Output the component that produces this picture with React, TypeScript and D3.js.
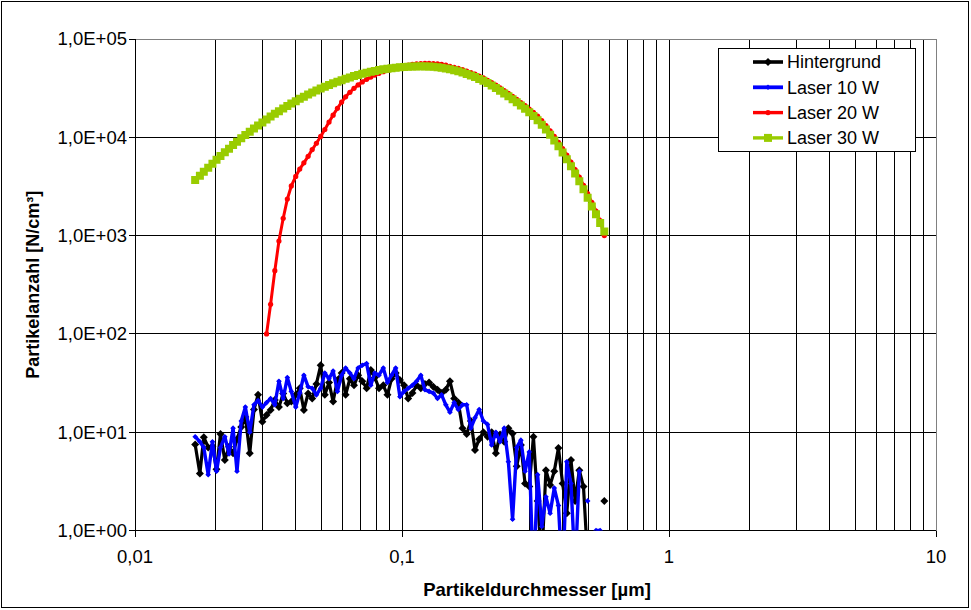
import React from 'react';
import * as d3 from 'd3';

const diameters = [
  0.0168, 0.0175, 0.0181, 0.0188, 0.0195, 0.0202, 0.0209, 0.0217, 0.0225, 0.0233,
  0.0241, 0.025, 0.0259, 0.0269, 0.0279, 0.0289, 0.03, 0.0311, 0.0322, 0.0334,
  0.0346, 0.0359, 0.0372, 0.0385, 0.04, 0.0414, 0.0429, 0.0445, 0.0461, 0.0478,
  0.0496, 0.0514, 0.0533, 0.0552, 0.0573, 0.0594, 0.0615, 0.0638, 0.0661, 0.0685,
  0.071, 0.0737, 0.0764, 0.0791, 0.082, 0.0851, 0.0882, 0.0914, 0.0947, 0.0982,
  0.1018, 0.1055, 0.1094, 0.1134, 0.1176, 0.1219, 0.1263, 0.131, 0.1358, 0.1407,
  0.1459, 0.1512, 0.1568, 0.1625, 0.1685, 0.1747, 0.1811, 0.1877, 0.1946, 0.2017,
  0.2091, 0.2167, 0.2247, 0.2329, 0.2414, 0.2503, 0.2595, 0.269, 0.2788, 0.289,
  0.2996, 0.3106, 0.322, 0.3338, 0.346, 0.3587, 0.3718, 0.3854, 0.3995, 0.4142,
  0.4294, 0.4451, 0.4614, 0.4783, 0.4958, 0.514, 0.5328, 0.5523, 0.5725,
];

const hintergrund: (number | null)[] = [
  7.5, 3.8, 8.9, 7.0, 7.2, 4.2, 9.6, 5.2, 7.1, 6.1,
  8.5, 11.3, 14.3, 6.1, 17, 24, 12.8, 15, 16.8, 21.3,
  18, 24.8, 19.7, 20.5, 24, 28, 16.8, 24.8, 22, 31,
  48, 24, 32, 20.5, 34, 40, 24, 35, 30, 38,
  33, 28, 43, 36, 28, 30, 24, 35, 40, 34,
  30, 22, 25, 30, 28, 31, 32, 29, 27, 25,
  27, 33, 22, 20, 11, 9.6, 13, 6.6, 8.5, 10,
  9, 10, 6.1, 9.5, 8, 11, 9.7, 4.5, 7.4, 3.0,
  2.8, 9.0, 2.0, 0.5, 4.1, 2.9, 4, 6.9, 3, 1.5,
  5.2, 2.0, 4.1, 2.8, 0.5, null, null, null, 2.0,
];

const laser10: (number | null)[] = [
  9, 8, 7, 3.7, 8, 4, 7, 9, 6, 11,
  4, 13, 18, 10, 19, 21, 18, 20, 22, 19,
  33, 22, 36, 26, 18, 25, 38, 29, 28, 24,
  28, 40, 35, 42, 26, 38, 45, 40, 35, 45,
  48, 50, 30, 40, 38, 45, 32, 38, 45, 23,
  26, 28, 30, 33, 38, 27, 26, 25, 22, 24,
  19, 16, 20, 17, 19, 19, 11, 14, 17, 13,
  12, 7.4, 10, 8, 11, 5, 1.3, 7, 8.3, 4,
  6.3, 0.3, 3.7, 1.1, 2.2, 1.5, 2.7, 1.8, 0.3, 5,
  3, 0.4, 4, null, 2, null, 1, 1, null,
];

const laser20: (number | null)[] = [
  null, null, null, null, null, null, null, null, null, null,
  null, null, null, null, null, null, null, 100, 200, 440,
  880, 1500, 2350, 3200, 4000, 4750, 5500, 6400, 7500, 8700,
  10200, 12000, 14300, 16800, 19700, 22800, 25800, 28700, 31500, 34100,
  36600, 38900, 41000, 43000, 44800, 46500, 48100, 49600, 51000, 52300,
  53400, 54400, 55200, 55800, 56200, 56400, 56400, 56200, 55800, 55200,
  54300, 52700, 51570, 50260, 48820, 47260, 45600, 43850, 42030, 40150,
  38060, 35980, 33930, 31910, 29920, 27980, 26100, 24280, 22530, 21030,
  19400, 17920, 16410, 14770, 13180, 11660, 10230, 8900, 7690, 6580,
  5590, 4700, 3930, 3250, 2670, 2180, 1780, 1420, 1000,
];

const laser30: (number | null)[] = [
  3681, 4061, 4471, 4914, 5390, 5902, 6450, 7039, 7664, 8329,
  9036, 9786, 10578, 11413, 12292, 13213, 14178, 15188, 16233, 17323,
  18450, 19614, 20815, 22048, 23311, 24604, 25917, 27251, 28600, 29962,
  31333, 32705, 34073, 35433, 36778, 38107, 39410, 40682, 41918, 43113,
  44259, 45352, 46387, 47359, 48261, 49091, 49843, 50512, 51097, 51594,
  51999, 52311, 52528, 52649, 52673, 52600, 52431, 52130, 51665, 51026,
  50234, 49284, 48195, 46970, 45627, 44170, 42620, 40984, 39284, 37523,
  35574, 33630, 31710, 29823, 27966, 26154, 24391, 22690, 21052, 19474,
  17966, 16439, 14917, 13424, 11979, 10600, 9303, 8096, 6989, 5983,
  5080, 4277, 3571, 2957, 2429, 1979, 1650, 1340, 1100,
];

const seriesNames = ['Hintergrund', 'Laser 10 W', 'Laser 20 W', 'Laser 30 W'];
const xTickValues = [0.01, 0.1, 1, 10];
const xTickLabels = ['0,01', '0,1', '1', '10'];
const yTickValues = [1, 10, 100, 1000, 10000, 100000];
const yTickLabels = ['1,0E+00', '1,0E+01', '1,0E+02', '1,0E+03', '1,0E+04', '1,0E+05'];
const xTitle = 'Partikeldurchmesser [µm]';
const yTitle = 'Partikelanzahl [N/cm³]';

type Marker = 'diamond' | 'smalldiamond' | 'circle' | 'square';
const seriesStyle: { color: string; width: number; marker: Marker; r: number }[] = [
  { color: '#000000', width: 3.2, marker: 'diamond', r: 4 },
  { color: '#0000FF', width: 3.4, marker: 'smalldiamond', r: 2.8 },
  { color: '#FF0000', width: 3, marker: 'circle', r: 2.6 },
  { color: '#99CC00', width: 3, marker: 'square', r: 4 },
];

function markerPath(m: Marker, r: number): string {
  if (m === 'square') return `M${-r},${-r}H${r}V${r}H${-r}Z`;
  if (m === 'circle') return d3.symbol(d3.symbolCircle, Math.PI * r * r)() as string;
  return `M0,${-r}L${r},0L0,${r}L${-r},0Z`;
}

export default function App() {
  const W = 971;
  const H = 610;
  const L = 135;
  const R = 936;
  const T = 39;
  const B = 530.5;
  const x = d3.scaleLog().domain([0.01, 10]).range([L, R]);
  const y = d3.scaleLog().domain([1, 100000]).range([B, T]);
  const font = 'Arial, "Liberation Sans", Helvetica, sans-serif';

  const all = [hintergrund, laser10, laser20, laser30];
  const line = d3
    .line<[number, number | null]>()
    .defined((d) => d[1] != null && (d[1] as number) > 0)
    .x((d) => x(d[0]))
    .y((d) => y(Math.max(d[1] as number, 1e-3)));

  const gridX = x.ticks();

  return (
    <svg width={W} height={H} style={{ position: 'absolute', left: 0, top: 0, background: '#fff' }} fontFamily={font}>
      <defs>
        <clipPath id="plotclip">
          <rect x={L} y={T - 4} width={R - L + 4} height={B - T + 4} />
        </clipPath>
      </defs>
      <rect x={1.5} y={1.5} width={W - 4} height={H - 4} fill="#fff" stroke="#000" strokeWidth={1} />
      <g shapeRendering="crispEdges">
        {gridX.map((v, i) => (
          <line key={'gx' + i} x1={x(v)} x2={x(v)} y1={T} y2={B} stroke="#000" strokeWidth={1} />
        ))}
        {yTickValues.map((v, i) => (
          <line key={'gy' + i} x1={L} x2={R} y1={y(v)} y2={y(v)} stroke="#000" strokeWidth={1} />
        ))}
        <line x1={L} x2={R} y1={T} y2={T} stroke="#808080" strokeWidth={1} />
        <line x1={R} x2={R} y1={T} y2={B} stroke="#808080" strokeWidth={1} />
        <line x1={L} x2={L} y1={T} y2={B} stroke="#000" strokeWidth={1} />
        <line x1={L} x2={R} y1={B} y2={B} stroke="#000" strokeWidth={1} />
        {yTickValues.map((v, i) => (
          <line key={'ty' + i} x1={L - 6} x2={L} y1={y(v)} y2={y(v)} stroke="#000" />
        ))}
        {xTickValues.map((v, i) => (
          <line key={'tx' + i} x1={x(v)} x2={x(v)} y1={B} y2={B + 6} stroke="#000" />
        ))}
      </g>
      {yTickValues.map((v, i) => (
        <text key={'ly' + i} x={L - 8} y={y(v)} dy="0.35em" textAnchor="end" fontSize={18.5} fill="#000">
          {yTickLabels[i]}
        </text>
      ))}
      {xTickValues.map((v, i) => (
        <text key={'lx' + i} x={x(v)} y={B + 26} dy="0.35em" textAnchor="middle" fontSize={18.5} fill="#000">
          {xTickLabels[i]}
        </text>
      ))}
      <text x={537} y={590} dy="0.35em" textAnchor="middle" fontSize={18.5} fontWeight="bold">
        {xTitle}
      </text>
      <text
        transform={`translate(33,${(T + B) / 2}) rotate(-90)`}
        dy="0.35em"
        textAnchor="middle"
        fontSize={18}
        fontWeight="bold"
      >
        {yTitle}
      </text>
      <g clipPath="url(#plotclip)">
        {all.map((vals, si) => {
          const st = seriesStyle[si];
          const pts: [number, number | null][] = diameters.map((d, i) => [d, vals[i]]);
          return (
            <g key={'s' + si}>
              <path d={line(pts) || ''} fill="none" stroke={st.color} strokeWidth={st.width} strokeLinejoin="round" />
              {pts
                .filter((p) => p[1] != null && (p[1] as number) > 0)
                .map((p, k) => (
                  <path
                    key={k}
                    d={markerPath(st.marker, st.r)}
                    transform={`translate(${x(p[0])},${y(p[1] as number)})`}
                    fill={st.color}
                  />
                ))}
            </g>
          );
        })}
      </g>
      <g>
        <rect x={718.5} y={48.5} width={197} height={103} fill="#fff" stroke="#000" strokeWidth={1} />
        {seriesNames.map((n, i) => {
          const st = seriesStyle[i];
          const cy = 62 + i * 25.3;
          return (
            <g key={'lg' + i}>
              <line x1={753} x2={783} y1={cy} y2={cy} stroke={st.color} strokeWidth={st.width + 0.4} />
              <path d={markerPath(st.marker, st.r)} transform={`translate(768,${cy})`} fill={st.color} />
              <text x={787} y={cy} dy="0.35em" fontSize={18} fill="#000">
                {n}
              </text>
            </g>
          );
        })}
      </g>
    </svg>
  );
}
